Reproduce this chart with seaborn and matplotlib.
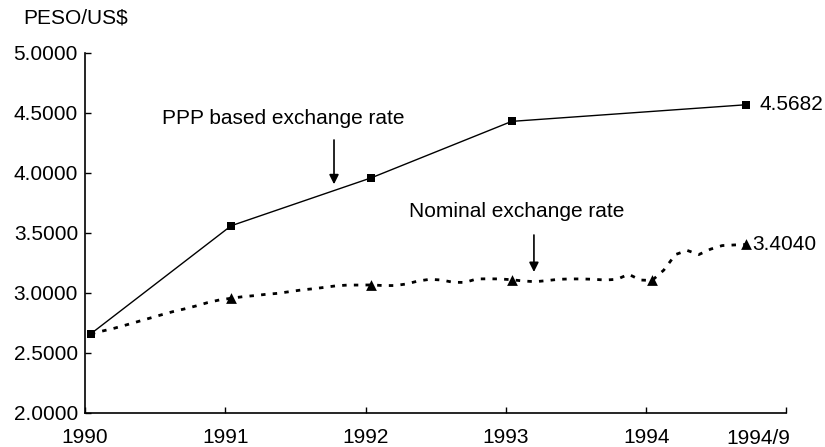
import matplotlib
matplotlib.use("Agg")
import matplotlib.pyplot as plt
import matplotlib.transforms as mtransforms
import seaborn as sns
import pandas as pd
import numpy as np

# Months counted from January 1990 (0) to September 1994 (56)
ppp_months = [0, 12, 24, 36, 56]
ppp_rate = [2.66, 3.56, 3.96, 4.43, 4.5682]

nominal_rate = [
    2.660, 2.683, 2.706, 2.733, 2.761, 2.789, 2.817, 2.844, 2.867, 2.892, 2.920, 2.942,  # 1990
    2.956, 2.969, 2.978, 2.989, 2.997, 3.011, 3.025, 3.035, 3.047, 3.060, 3.066, 3.066,  # 1991
    3.067, 3.062, 3.062, 3.075, 3.100, 3.114, 3.108, 3.089, 3.088, 3.117, 3.118, 3.117,  # 1992
    3.110, 3.100, 3.094, 3.103, 3.114, 3.117, 3.117, 3.114, 3.108, 3.114, 3.156, 3.108,  # 1993
    3.104, 3.190, 3.320, 3.355, 3.320, 3.365, 3.395, 3.400, 3.404,                       # 1994
]
nominal_months = list(range(len(nominal_rate)))
nominal_marked = [12, 24, 36, 48, 56]

year_ticks = [0, 12, 24, 36, 48, 60]
year_labels = ["1990", "1991", "1992", "1993", "1994", ""]
end_label = "1994/9"
y_ticks = [2.0, 2.5, 3.0, 3.5, 4.0, 4.5, 5.0]

sns.set_theme(style="white")
plt.rcParams["font.family"] = ["Liberation Sans", "DejaVu Sans"]
plt.rcParams["lines.scale_dashes"] = False

# plot each monthly value at the middle of its month
nom_df = pd.DataFrame({"x": np.array(nominal_months) + 0.5, "rate": nominal_rate})
ppp_df = pd.DataFrame({"x": np.array(ppp_months) + 0.5, "rate": ppp_rate})
mark_df = nom_df[nom_df.index.isin(nominal_marked)]

fig = plt.figure(figsize=(8.25, 4.47), dpi=100)
ax = fig.add_axes([0.1030, 0.0761, 0.8503, 0.8054])

sns.lineplot(data=nom_df, x="x", y="rate", ax=ax, color="black", linewidth=2.0,
             dashes=False, zorder=2)
ax.lines[-1].set_dashes((3.2, 5.2))
ax.lines[-1].set_dash_capstyle("butt")
sns.scatterplot(data=mark_df, x="x", y="rate", ax=ax, marker="^", s=60,
                color="black", edgecolor="black", linewidth=0, zorder=4)
sns.lineplot(data=ppp_df, x="x", y="rate", ax=ax, color="black", linewidth=1.0,
             marker="s", markersize=5.5, markeredgewidth=0, zorder=3)

ax.set_xlim(0, 60)
ax.set_ylim(2.0, 5.0)
ax.set_xticks(year_ticks)
ax.set_xticklabels(year_labels)
ax.set_yticks(y_ticks)
ax.set_yticklabels([f"{v:.4f}" for v in y_ticks])
ax.set_xlabel("")
ax.set_ylabel("")

for side in ("top", "right"):
    ax.spines[side].set_visible(False)
for side in ("left", "bottom"):
    ax.spines[side].set_color("black")
    ax.spines[side].set_linewidth(1.2)

ax.tick_params(axis="both", direction="in", length=4, width=1.0, color="black",
               labelsize=15, labelcolor="black")
ax.tick_params(axis="x", pad=10.5, bottom=True)
ax.tick_params(axis="y", pad=5, left=True)

# last month label under the right end of the axis
trans = mtransforms.blended_transform_factory(ax.transData, ax.transAxes)
ax.text(60.3, -0.045, end_label, transform=trans, ha="right", va="top",
        fontsize=15, color="black")

fig.text(0.028, 0.96, "PESO/US\\$", ha="left", va="center", fontsize=15, color="black")

# end values
ax.annotate(f"{ppp_rate[-1]:.4f}", xy=(ppp_months[-1] + 0.5, ppp_rate[-1]),
            xytext=(10, 0), textcoords="offset points", ha="left", va="center",
            fontsize=15, color="black")
ax.annotate(f"{nominal_rate[-1]:.4f}", xy=(nominal_months[-1] + 0.5, nominal_rate[-1]),
            xytext=(5, 0), textcoords="offset points", ha="left", va="center",
            fontsize=15, color="black")

# series captions with pointers
ax.text(16.98, 4.458, "PPP based exchange rate", ha="center", va="center",
        fontsize=15, color="black")
ax.annotate("", xy=(21.3, 3.906), xytext=(21.3, 4.275),
            arrowprops=dict(arrowstyle="-|>", color="black", lw=1.2,
                            mutation_scale=14, shrinkA=0, shrinkB=0))
ax.text(36.93, 3.678, "Nominal exchange rate", ha="center", va="center",
        fontsize=15, color="black")
ax.annotate("", xy=(38.4, 3.175), xytext=(38.4, 3.483),
            arrowprops=dict(arrowstyle="-|>", color="black", lw=1.2,
                            mutation_scale=14, shrinkA=0, shrinkB=0))

fig.savefig("out.png", dpi=100, facecolor="white")
